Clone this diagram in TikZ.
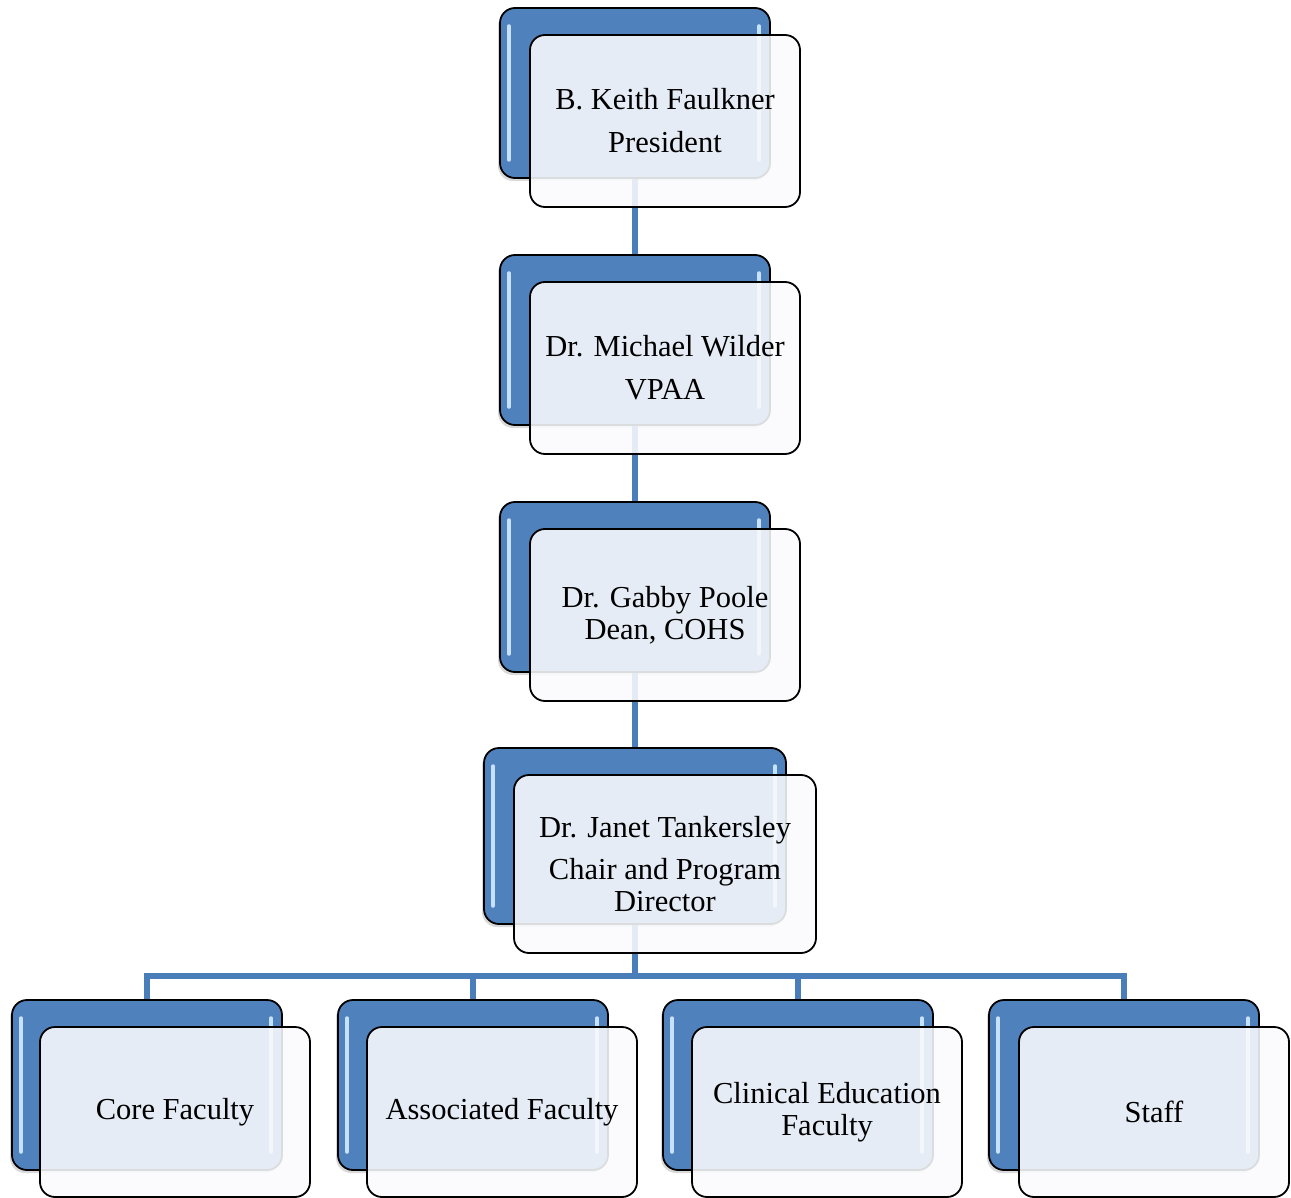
\documentclass[tikz,border=0pt]{standalone}
\usepackage{fontspec}
\setmainfont{Liberation Serif}
\usetikzlibrary{positioning,calc,shadows}

\definecolor{cardblue}{RGB}{79,129,189}
\definecolor{linkblue}{RGB}{74,126,187}
\definecolor{cardface}{RGB}{250,251,253}
\definecolor{glint}{RGB}{200,225,250}

\begin{document}
\begin{tikzpicture}[
  x=1pt, y=-1pt,
  font=\fontsize{30.5}{32}\selectfont,
  back/.style={draw=black, line width=1.8pt, rounded corners=15pt, fill=cardblue,
    minimum width=270pt, minimum height=170pt, inner sep=0pt,
    drop shadow={shadow xshift=-2pt, shadow yshift=-3pt, opacity=0.3},
    path picture={
      \draw[glint, line width=3.5pt, line cap=round]
        ([xshift=9pt,yshift=-18pt]path picture bounding box.north west) --
        ([xshift=9pt,yshift=18pt]path picture bounding box.south west);
      \draw[glint, line width=3.5pt, line cap=round]
        ([xshift=-11pt,yshift=-18pt]path picture bounding box.north east) --
        ([xshift=-11pt,yshift=18pt]path picture bounding box.south east);
    }},
  front/.style={draw=black, line width=1.8pt, rounded corners=15pt, fill=cardface,
    fill opacity=0.88, text opacity=1, align=center,
    minimum width=270pt, minimum height=172pt, inner sep=0pt},
  wide/.style={minimum width=302pt},
  link/.style={draw=linkblue, line width=5.5pt}
]
\useasboundingbox (0,0) rectangle (1291,1198);

% back cards
\node[back] (pres-b) at (635,93) {};
\node[back] (vpaa-b) at (635,340) {};
\node[back] (dean-b) at (635,587) {};
\node[back, wide, minimum height=176pt] (chair-b) at (635,836) {};
\node[back] (core-b) at (147,1085) {};
\node[back] (assoc-b) at (473,1085) {};
\node[back] (clin-b) at (798,1085) {};
\node[back] (staff-b) at (1124,1085) {};

% connectors
\coordinate (bus) at (635,976);
\draw[link] (pres-b.south) -- (vpaa-b.north);
\draw[link] (vpaa-b.south) -- (dean-b.north);
\draw[link] (dean-b.south) -- (chair-b.north);
\draw[link] (chair-b.south) -- (bus);
\foreach \n in {core,assoc,clin,staff}
  \draw[link] (bus) -| (\n-b.north);

% front cards
\node[front] (pres) at ([shift={(30,28)}]pres-b.center) {B. Keith Faulkner\\[11pt]President};
\node[front] (vpaa) at ([shift={(30,28)}]vpaa-b.center) {Dr. Michael Wilder\\[11pt]VPAA};
\node[front] (dean) at ([shift={(30,28)}]dean-b.center) {Dr. Gabby Poole\\Dean, COHS};
\node[front, wide, minimum height=178pt] (chair) at ([shift={(30,28)}]chair-b.center)
  {Dr. Janet Tankersley\\[10pt]Chair and Program\\Director};
\node[front, minimum height=170pt] (core) at ([shift={(28,27)}]core-b.center) {Core Faculty};
\node[front, minimum height=170pt] (assoc) at ([shift={(29,27)}]assoc-b.center) {Associated Faculty};
\node[front, minimum height=170pt] (clin) at ([shift={(29,27)}]clin-b.center) {Clinical Education\\Faculty};
\node[front, minimum height=170pt] (staff) at ([shift={(30,27)}]staff-b.center) {Staff};

\end{tikzpicture}
\end{document}
